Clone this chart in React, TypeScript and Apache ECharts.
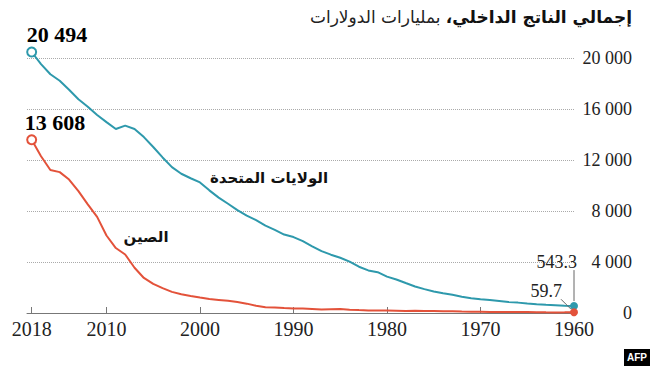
import React, { useEffect, useRef } from "react";
import * as echarts from "echarts";

const years = [
  1960, 1961, 1962, 1963, 1964, 1965, 1966, 1967, 1968, 1969,
  1970, 1971, 1972, 1973, 1974, 1975, 1976, 1977, 1978, 1979,
  1980, 1981, 1982, 1983, 1984, 1985, 1986, 1987, 1988, 1989,
  1990, 1991, 1992, 1993, 1994, 1995, 1996, 1997, 1998, 1999,
  2000, 2001, 2002, 2003, 2004, 2005, 2006, 2007, 2008, 2009,
  2010, 2011, 2012, 2013, 2014, 2015, 2016, 2017, 2018,
];

const usGdp = [
  543.3, 563.3, 605.1, 638.6, 685.8, 743.7, 815.0, 861.7, 942.5, 1019.9,
  1073.3, 1164.9, 1279.1, 1425.4, 1545.2, 1684.9, 1873.4, 2081.8, 2351.6, 2627.3,
  2857.3, 3207.0, 3343.8, 3634.0, 4037.6, 4339.0, 4579.6, 4855.2, 5236.4, 5641.6,
  5963.1, 6158.1, 6520.3, 6858.6, 7287.2, 7639.7, 8073.1, 8577.6, 9062.8, 9631.2,
  10252.3, 10581.8, 10936.4, 11458.2, 12213.7, 13036.6, 13814.6, 14451.9, 14712.8, 14448.9,
  14992.1, 15542.6, 16197.0, 16784.9, 17527.3, 18238.3, 18745.1, 19543.0, 20494.1,
];

const chinaGdp = [
  59.7, 50.1, 47.2, 50.7, 59.7, 70.4, 76.7, 72.9, 70.8, 79.7,
  92.6, 99.8, 113.7, 138.5, 144.2, 163.4, 153.9, 174.9, 149.5, 178.3,
  191.1, 195.9, 205.1, 230.7, 259.9, 309.5, 300.8, 273.0, 312.4, 347.8,
  360.9, 383.4, 426.9, 444.7, 564.3, 734.5, 863.7, 961.6, 1029.0, 1094.0,
  1211.3, 1339.4, 1470.6, 1660.3, 1955.3, 2286.0, 2752.1, 3550.3, 4594.3, 5101.7,
  6087.2, 7551.5, 8532.2, 9570.4, 10475.7, 11061.6, 11233.3, 12310.4, 13608.2,
];

const xTickYears = [2018, 2010, 2000, 1990, 1980, 1970, 1960];
const yMax = 20000;
const yStep = 4000;

const titleBold = "إجمالي الناتج الداخلي";
const titleRegular = "بمليارات الدولارات";
const usName = "الولايات المتحدة";
const chinaName = "الصين";

const US_COLOR = "#2e99ac";
const CN_COLOR = "#e3523a";
const SERIF = "'Liberation Serif', 'Times New Roman', serif";
const ARABIC = "'DejaVu Sans', sans-serif";

const fmtThousands = (v: number) =>
  String(Math.round(v)).replace(/\B(?=(\d{3})+(?!\d))/g, " ");

export default function App() {
  const ref = useRef<HTMLDivElement>(null);

  useEffect(() => {
    document.body.style.margin = "0";
    if (!ref.current) return;
    const chart = echarts.init(ref.current, null, { renderer: "svg" });
    const last = years.length - 1;
    const firstYear = years[0];
    const lastYear = years[last];

    const endLabel = {
      fontFamily: SERIF,
      color: "#111",
      textBorderWidth: 0,
      opacity: 1,
    };

    chart.setOption({
      animation: false,
      backgroundColor: "#fff",
      grid: { left: 27, right: 76, top: 58.3, bottom: 53 },
      xAxis: {
        type: "value",
        inverse: true,
        min: firstYear,
        max: lastYear + 0.5,
        axisLine: { show: true, lineStyle: { color: "#777", width: 1 } },
        axisTick: {
          show: true,
          inside: true,
          length: 6,
          customValues: xTickYears,
          lineStyle: { color: "#777" },
        },
        axisLabel: {
          customValues: xTickYears,
          fontFamily: SERIF,
          fontSize: 20,
          color: "#222",
          margin: 6,
          formatter: (v: number) => String(v),
        },
        splitLine: { show: false },
      },
      yAxis: {
        type: "value",
        position: "right",
        min: 0,
        max: yMax,
        interval: yStep,
        axisLine: { show: false },
        axisTick: { show: false },
        axisLabel: {
          fontFamily: SERIF,
          fontSize: 18,
          color: "#222",
          align: "right",
          margin: 58,
          formatter: (v: number) => fmtThousands(v),
        },
        splitLine: {
          show: true,
          lineStyle: { color: "#aaa", type: "dotted", width: 1 },
        },
      },
      series: [
        {
          type: "line",
          name: "US",
          data: years.map((y, i) => [y, usGdp[i]]),
          symbol: "none",
          clip: false,
          lineStyle: { color: US_COLOR, width: 2 },
          z: 3,
        },
        {
          type: "line",
          name: "China",
          data: years.map((y, i) => [y, chinaGdp[i]]),
          symbol: "none",
          clip: false,
          lineStyle: { color: CN_COLOR, width: 2 },
          z: 3,
        },
        {
          type: "scatter",
          clip: false,
          z: 5,
          label: { show: true, ...endLabel },
          emphasis: { disabled: true },
          data: [
            {
              value: [lastYear, usGdp[last]],
              symbolSize: 9,
              itemStyle: { color: "#fff", borderColor: US_COLOR, borderWidth: 2, opacity: 1 },
              label: {
                ...endLabel,
                formatter: fmtThousands(usGdp[last]),
                position: "top",
                align: "left",
                offset: [-5, 0],
                distance: 1,
                fontSize: 22,
                fontWeight: "bold",
                color: "#000",
              },
            },
            {
              value: [lastYear, chinaGdp[last]],
              symbolSize: 9,
              itemStyle: { color: "#fff", borderColor: CN_COLOR, borderWidth: 2, opacity: 1 },
              label: {
                ...endLabel,
                formatter: fmtThousands(chinaGdp[last]),
                position: "top",
                align: "left",
                offset: [-7, 0],
                distance: 1,
                fontSize: 22,
                fontWeight: "bold",
                color: "#000",
              },
            },
            {
              value: [firstYear, usGdp[0]],
              symbolSize: 8,
              itemStyle: { color: US_COLOR, opacity: 1 },
              label: {
                ...endLabel,
                formatter: String(usGdp[0]),
                position: "top",
                align: "right",
                offset: [3, 0],
                distance: 31,
                fontSize: 18,
                color: "#222",
              },
            },
            {
              value: [firstYear, chinaGdp[0]],
              symbolSize: 8,
              itemStyle: { color: CN_COLOR, opacity: 1 },
              label: {
                ...endLabel,
                formatter: String(chinaGdp[0]),
                position: "top",
                align: "right",
                offset: [-12, 0],
                distance: 8,
                fontSize: 18,
                color: "#222",
              },
            },
          ],
        },
      ],
    });

    const pUs = chart.convertToPixel({ gridIndex: 0 }, [firstYear, usGdp[0]]) as number[];
    const pCn = chart.convertToPixel({ gridIndex: 0 }, [firstYear, chinaGdp[0]]) as number[];

    chart.setOption({
      graphic: [
        {
          type: "line",
          shape: { x1: pUs[0], y1: pUs[1] - 5, x2: pUs[0], y2: pUs[1] - 36 },
          style: { stroke: "#666", lineWidth: 1 },
          z: 4,
        },
        {
          type: "line",
          shape: { x1: pCn[0] - 3, y1: pCn[1] - 3, x2: pCn[0] - 13, y2: pCn[1] - 13 },
          style: { stroke: "#666", lineWidth: 1 },
          z: 4,
        },
        {
          type: "text",
          x: 632,
          y: 17,
          style: {
            text: `{r|${titleRegular}}{r| }{b|،}{b|${titleBold}}`,
            align: "right",
            verticalAlign: "middle",
            rich: {
              r: { fontFamily: ARABIC, fontSize: 17, fill: "#222", color: "#222" },
              b: { fontFamily: ARABIC, fontSize: 17, fontWeight: "bold", fill: "#111", color: "#111" },
            },
          },
        },
        {
          type: "text",
          x: 269,
          y: 178,
          style: {
            text: usName,
            fontFamily: ARABIC,
            fontSize: 15,
            fontWeight: "bold",
            fill: "#111",
            align: "center",
            verticalAlign: "middle",
          },
        },
        {
          type: "text",
          x: 146,
          y: 237,
          style: {
            text: chinaName,
            fontFamily: ARABIC,
            fontSize: 15,
            fontWeight: "bold",
            fill: "#111",
            align: "center",
            verticalAlign: "middle",
          },
        },
        {
          type: "rect",
          shape: { x: 624, y: 349, width: 26, height: 17 },
          style: { fill: "#000" },
        },
        {
          type: "text",
          x: 637,
          y: 357.5,
          style: {
            text: "AFP",
            fontFamily: "'Liberation Sans', Arial, sans-serif",
            fontSize: 10,
            fontWeight: "bold",
            fill: "#fff",
            align: "center",
            verticalAlign: "middle",
          },
        },
      ],
    });

    return () => chart.dispose();
  }, []);

  return (
    <div
      ref={ref}
      style={{ position: "absolute", left: 0, top: 0, width: 650, height: 366 }}
    />
  );
}
